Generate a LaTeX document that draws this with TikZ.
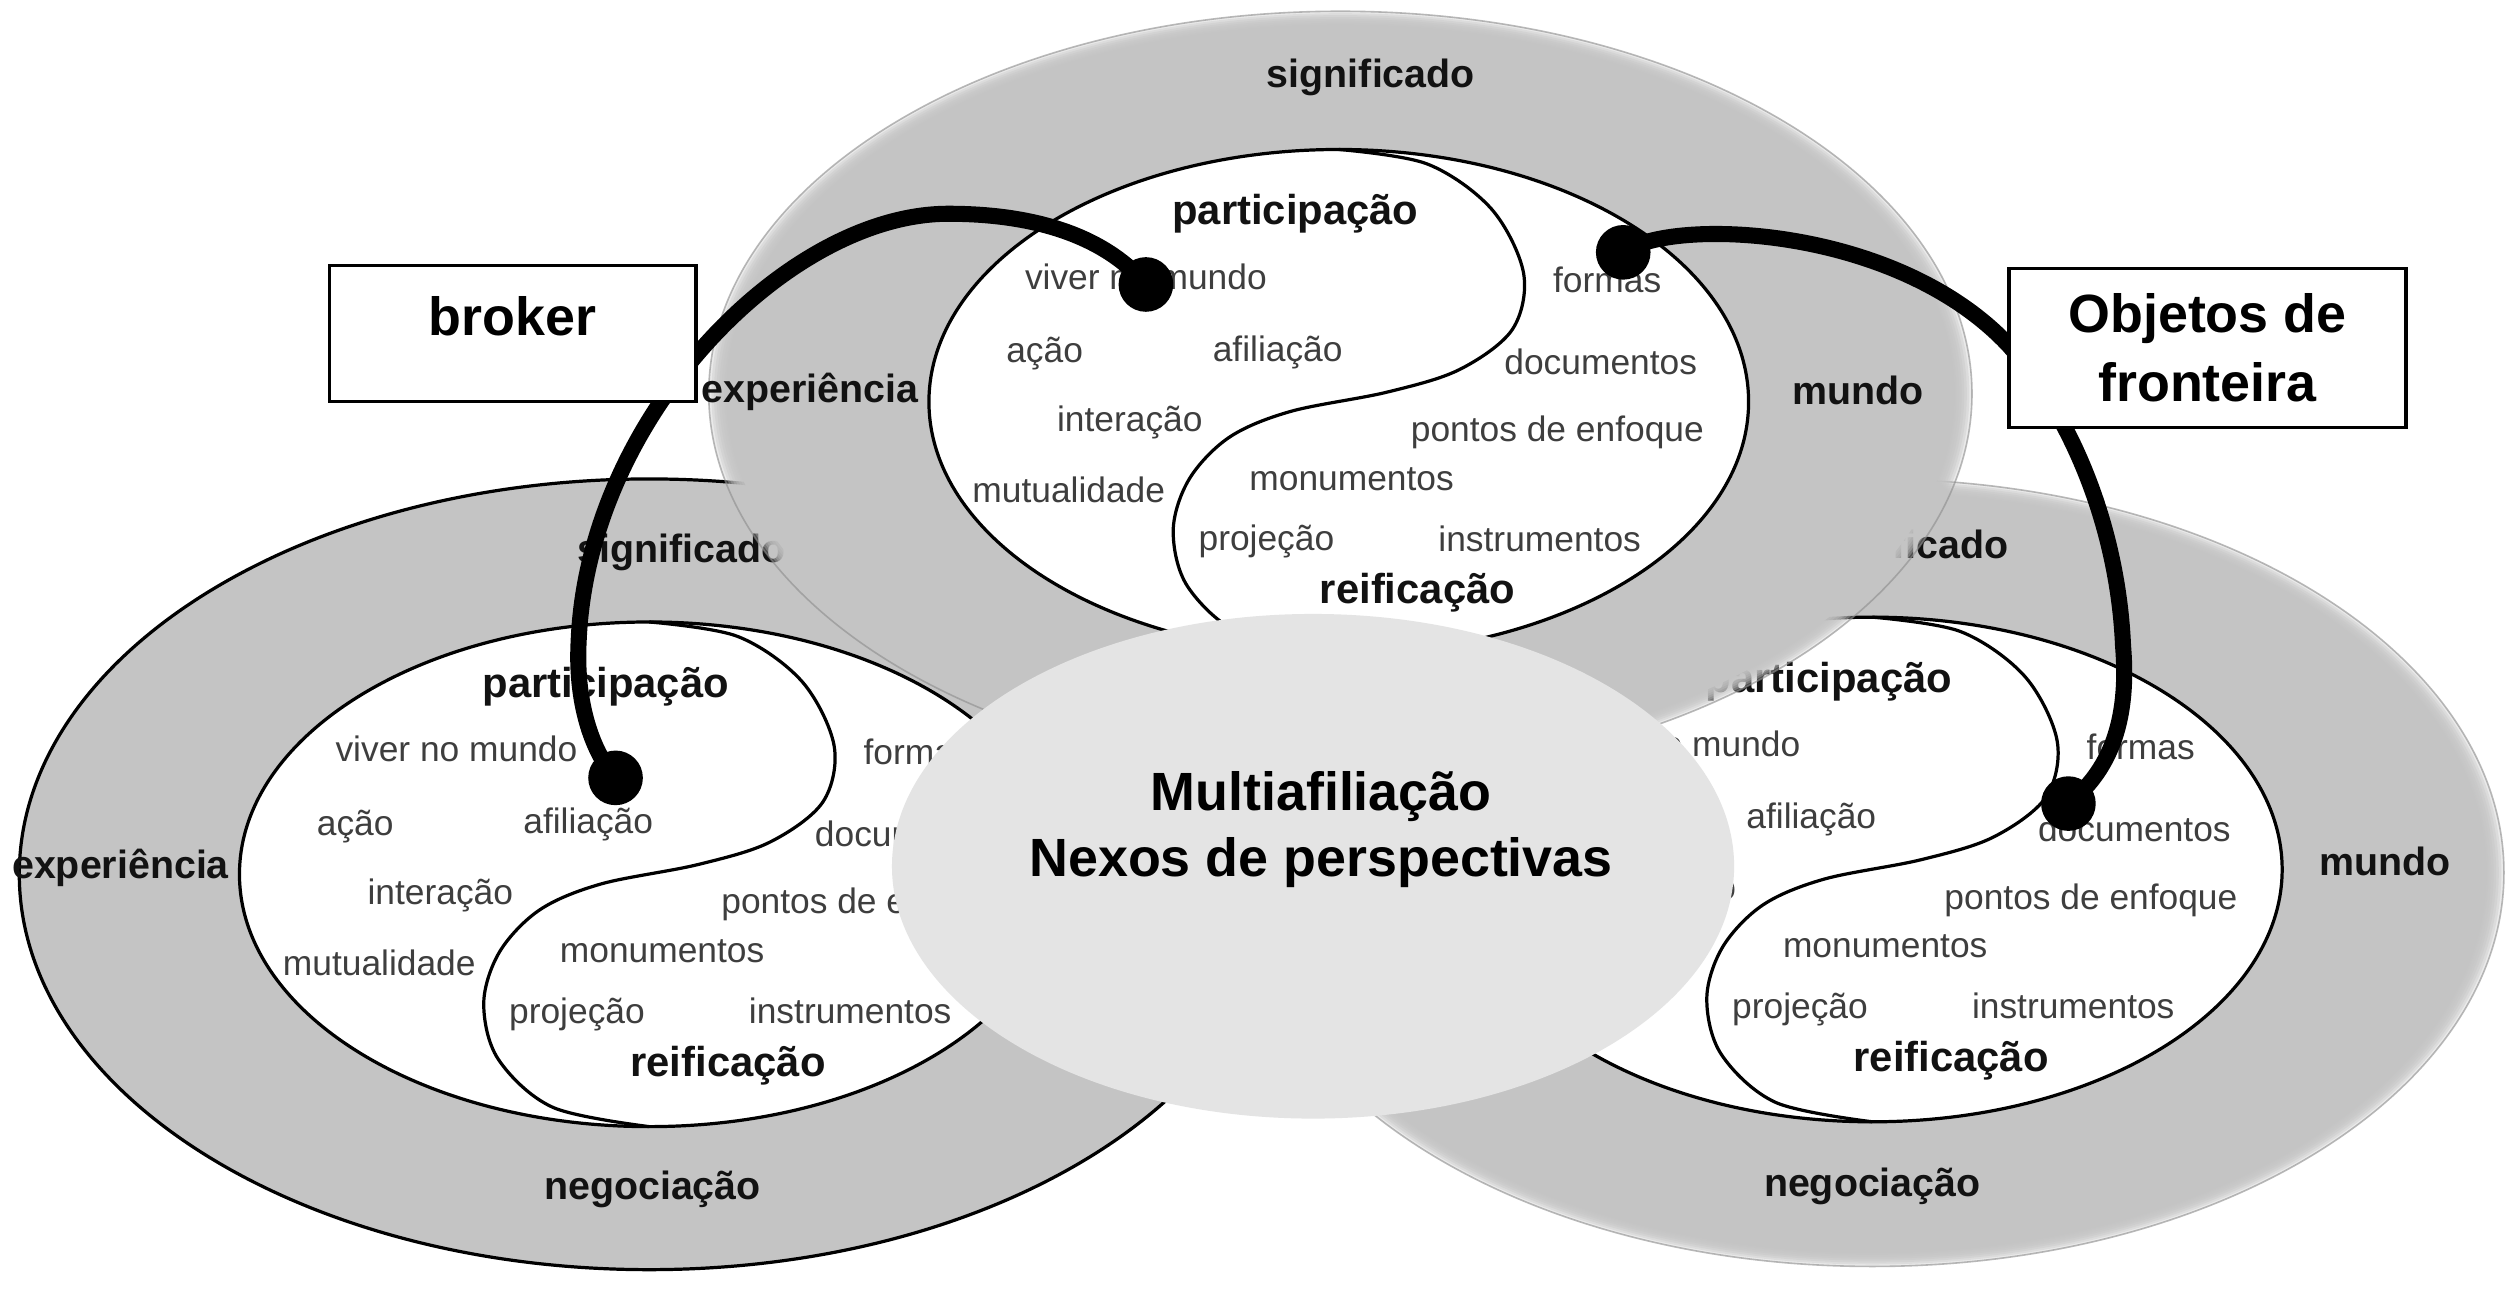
\documentclass[tikz,border=0pt]{standalone}
\usepackage{fontspec}
\setmainfont{Liberation Sans}
\usetikzlibrary{shapes.geometric}
\definecolor{ringgray}{RGB}{196,196,196}
\definecolor{centergray}{RGB}{228,228,228}
\definecolor{wordgray}{RGB}{62,62,62}
\definecolor{lblblack}{RGB}{18,18,18}
\definecolor{rimgray}{RGB}{140,140,140}
\tikzset{
  word/.style={inner sep=0pt, text=wordgray, font=\fontsize{22}{26}\selectfont},
  ringlbl/.style={inner sep=0pt, text=lblblack, font=\bfseries\fontsize{24.5}{28}\selectfont},
  lobelbl/.style={inner sep=0pt, text=lblblack, font=\bfseries\fontsize{26}{30}\selectfont},
  ctrtxt/.style={inner sep=0pt, text=black, align=center, font=\bfseries\fontsize{33.5}{41}\selectfont},
  boxnode/.style={draw=black, line width=2pt, fill=white, inner sep=0pt, text=black, font=\bfseries\fontsize{33.5}{43}\selectfont},
  dotnode/.style={circle, fill=black, inner sep=0pt, minimum size=34pt},
  conn/.style={line width=10pt, draw=black, line cap=round},
  outline/.style={line width=2pt, draw=black},
}
% soft-edged grey ring body: #1 x radius, #2 y radius (centre = current origin)
\newcommand\softring[2]{%
  \foreach \k in {0,...,6}{%
    \pgfmathsetmacro\rxk{#1-1.6*\k}\pgfmathsetmacro\ryk{#2-1.2*\k}%
    \fill[ringgray, fill opacity=0.35] (0,0) ellipse [x radius=\rxk, y radius=\ryk];
  }
  \pgfmathsetmacro\rxs{#1-11}\pgfmathsetmacro\rys{#2-8.5}%
  \fill[ringgray] (0,0) ellipse [x radius=\rxs, y radius=\rys];
  \draw[rimgray, line width=1pt, opacity=0.6] (0,0) ellipse [x radius=#1, y radius=#2];
}
\newcommand\yinyang{%
  \filldraw[fill=white, outline] (0,0) ellipse [x radius=255, y radius=157];
  \draw[outline] plot[smooth, tension=0.55] coordinates {(0,-157) (55,-148) (95,-120) (115,-80) (108,-45) (75,-20) (30,-6) (-30,6) (-68,22) (-93,48) (-103,80) (-94,115) (-60,145) (0,157)};
}
\newcommand\ywords[1]{%
  \node[lobelbl] (#1-part) at (-27,-117) {participação};
  \node[word] (#1-viver) at (-120,-78) {viver no mundo};
  \node[word] (#1-afil) at (-38,-31) {afiliação};
  \node[word] (#1-inter) at (-130,13) {interação};
  \node[word] (#1-monu) at (8,48) {monumentos};
  \node[word] (#1-proj) at (-45,87) {projeção};
  \node[word] (#1-instr) at (125,85) {instrumentos};
  \node[lobelbl] (#1-reif) at (49,119) {reificação};
  \node[word] (#1-form) at (167,-76) {formas};
  \node[word] (#1-docu) at (163,-25) {documentos};
  \node[word] (#1-pont) at (136,19) {pontos de enfoque};
}
\begin{document}
\begin{tikzpicture}[x=1pt,y=-1pt]
\useasboundingbox (0,0) rectangle (1568,804);
\fill[white] (0,0) rectangle (1568,804);

% ---------- left ring ----------
\begin{scope}[shift={(404,544)}]
  \filldraw[fill=ringgray, outline] (0,0) ellipse [x radius=392, y radius=246];
  \node[ringlbl] (L-exp) at (-329,-4) {experiência};
  \node[ringlbl] (L-sig) at (20,-200) {significado};
  \node[ringlbl] (L-neg) at (2,196) {negociação};
  \yinyang
  \ywords{L}
  \node[word] (L-acao) at (-183,-30) {ação};
  \node[word] (L-mutu) at (-168,55) {mutualidade};
\end{scope}

% ---------- right ring ----------
\begin{scope}[shift={(1165,543)}]
  \softring{393}{245}
\end{scope}
\begin{scope}[shift={(1165,541)}]
  \node[ringlbl] (R-sig) at (20,-200) {significado};
  \node[ringlbl] (R-mun) at (319,-5) {mundo};
  \node[ringlbl] (R-neg) at (0,197) {negociação};
  \yinyang
  \ywords{R}
\end{scope}

% ---------- top ring ----------
\begin{scope}[shift={(834,245)}]
  \softring{393}{238}
\end{scope}
\begin{scope}[shift={(833,250)}]
  \node[ringlbl] (T-exp) at (-329,-6) {experiência};
  \node[ringlbl] (T-sig) at (20,-202) {significado};
  \node[ringlbl] (T-mun) at (323,-7) {mundo};
  \yinyang
  \ywords{T}
  \node[word] (T-acao) at (-183,-30) {ação};
  \node[word] (T-mutu) at (-168,55) {mutualidade};
\end{scope}

% ---------- centre ----------
\node[ellipse, fill=centergray, minimum width=524pt, minimum height=314pt, inner sep=0pt] (centre) at (817,539) {};
\node[ctrtxt] (centretext) at (822,516) {Multiafiliação\\Nexos de perspectivas};

% ---------- connectors ----------
\node[dotnode] (dotA) at (713,177) {};
\node[dotnode] (dotB) at (383,484) {};
\node[dotnode] (dotC) at (1010,157) {};
\node[dotnode] (dotD) at (1287,500) {};
\draw[conn] (dotA.center) .. controls (690,150) and (650,133) .. (590,133)
  .. controls (490,133) and (365,260) .. (360,400)
  .. controls (358,440) and (370,470) .. (dotB.center);
\draw[conn] (dotC.center) .. controls (1040,135) and (1180,140) .. (1250,215)
  .. controls (1290,260) and (1318,330) .. (1321,402)
  .. controls (1325,450) and (1312,480) .. (dotD.center);

% ---------- boxes ----------
\node[boxnode, minimum width=228pt, minimum height=85pt, text height=24pt, text depth=21pt] (broker) at (319,207.5) {broker};
\node[boxnode, minimum width=247pt, minimum height=99pt, align=center] (objetos) at (1373.5,216.5) {Objetos de\\fronteira};
\end{tikzpicture}
\end{document}
